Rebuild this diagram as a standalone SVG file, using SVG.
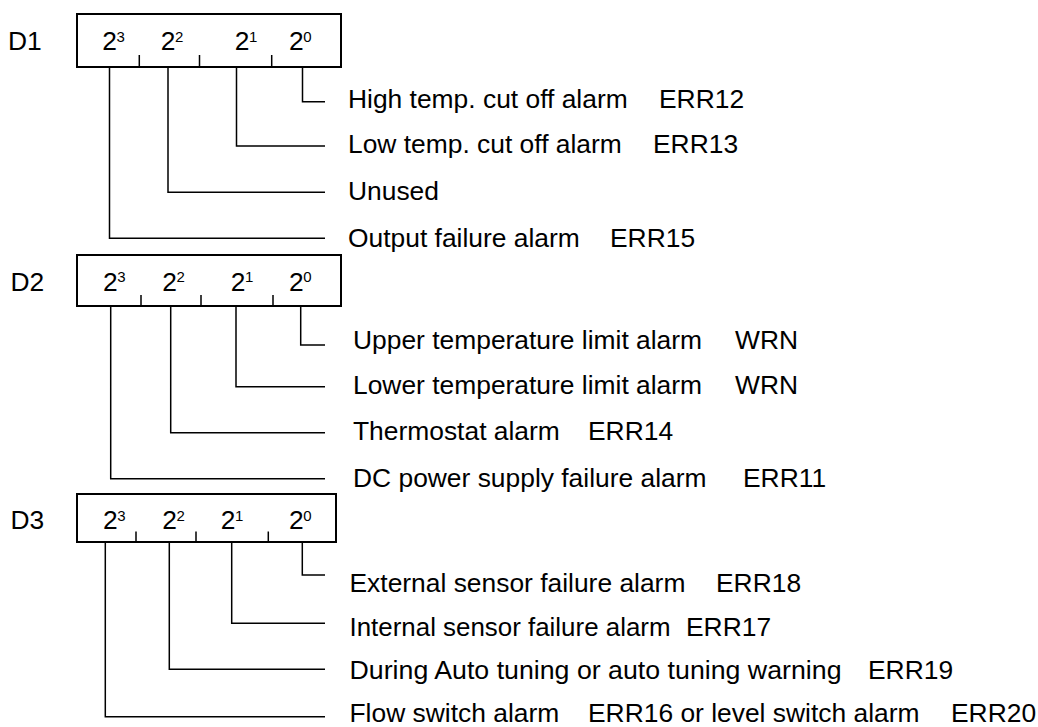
<svg xmlns="http://www.w3.org/2000/svg" width="1038" height="727" viewBox="0 0 1038 727">
<style>
.t{font-family:"Liberation Sans",Arial,Helvetica,sans-serif;font-size:26.4px;fill:#000}
.s{font-size:15px}
.box{fill:none;stroke:#000;stroke-width:2}
.ln{fill:none;stroke:#000;stroke-width:1.5}
</style>
<rect width="1038" height="727" fill="#fff"/>
<g id="D1">
<text class="t" x="8" y="50">D1</text>
<rect class="box" x="77" y="14" width="264" height="53"/>
<path class="ln" d="M139.3 55V67M199.5 55V67M271.7 55V67"/>
<text class="t" x="102.3" y="50">2<tspan class="s" dx="-0.5" dy="-8.5">3</tspan></text>
<text class="t" x="160.7" y="50">2<tspan class="s" dx="-0.5" dy="-8.5">2</tspan></text>
<text class="t" x="234.7" y="50">2<tspan class="s" dx="-0.5" dy="-8.5">1</tspan></text>
<text class="t" x="289" y="50">2<tspan class="s" dx="-0.5" dy="-8.5">0</tspan></text>
</g>
<g id="D1-labels">
<text class="t" x="348" y="108.3">High temp. cut off alarm<tspan x="659">ERR12</tspan></text>
<text class="t" x="348" y="153.3">Low temp. cut off alarm<tspan x="653">ERR13</tspan></text>
<text class="t" x="348" y="200">Unused</text>
<text class="t" x="348" y="246.7">Output failure alarm<tspan x="610">ERR15</tspan></text>
</g>
<g id="D2">
<text class="t" x="10.5" y="290.7">D2</text>
<rect class="box" x="77" y="255" width="264" height="51"/>
<path class="ln" d="M141 295V306M201 295V306M273 295V306"/>
<text class="t" x="103" y="290.7">2<tspan class="s" dx="-0.5" dy="-8.5">3</tspan></text>
<text class="t" x="162.3" y="290.7">2<tspan class="s" dx="-0.5" dy="-8.5">2</tspan></text>
<text class="t" x="230.7" y="290.7">2<tspan class="s" dx="-0.5" dy="-8.5">1</tspan></text>
<text class="t" x="289" y="290.7">2<tspan class="s" dx="-0.5" dy="-8.5">0</tspan></text>
</g>
<g id="D2-labels">
<text class="t" x="353" y="349">Upper temperature limit alarm<tspan x="735">WRN</tspan></text>
<text class="t" x="353" y="394">Lower temperature limit alarm<tspan x="735">WRN</tspan></text>
<text class="t" x="353" y="440">Thermostat alarm<tspan x="588">ERR14</tspan></text>
<text class="t" x="353" y="486.7">DC power supply failure alarm<tspan x="743">ERR11</tspan></text>
</g>
<g id="D3">
<text class="t" x="10.5" y="529.3">D3</text>
<rect class="box" x="77" y="494" width="259" height="48"/>
<path class="ln" d="M136 531.5V542M196 531.5V542M268.3 531.5V542"/>
<text class="t" x="103" y="529.3">2<tspan class="s" dx="-0.5" dy="-8.5">3</tspan></text>
<text class="t" x="162.3" y="529.3">2<tspan class="s" dx="-0.5" dy="-8.5">2</tspan></text>
<text class="t" x="220.7" y="529.3">2<tspan class="s" dx="-0.5" dy="-8.5">1</tspan></text>
<text class="t" x="289" y="529.3">2<tspan class="s" dx="-0.5" dy="-8.5">0</tspan></text>
</g>
<g id="D3-labels">
<text class="t" x="349.5" y="591.7">External sensor failure alarm<tspan x="716">ERR18</tspan></text>
<text class="t" x="349.5" y="636" textLength="321" lengthAdjust="spacingAndGlyphs">Internal sensor failure alarm</text>
<text class="t" x="686" y="636">ERR17</text>
<text class="t" x="349.5" y="679.3" textLength="492" lengthAdjust="spacingAndGlyphs">During Auto tuning or auto tuning warning</text>
<text class="t" x="868" y="679.3">ERR19</text>
<text class="t" x="349.5" y="721.5">Flow switch alarm<tspan x="588">ERR16 or level switch alarm</tspan><tspan x="951">ERR20</tspan></text>
</g>
<g id="connectors">
<path class="ln" d="M302.5 67V101.7H325M236.5 67V146H325M168 67V192.3H325M109.5 67V238.3H325"/>
<path class="ln" d="M300.7 306V345H325M236 306V386.7H325M170.7 306V432.7H325M110.7 306V478.7H325"/>
<path class="ln" d="M302.3 542V575H325M231.7 542V623.3H325M169.3 542V669.3H325M105.3 542V716.7H325"/>
</g>
</svg>
